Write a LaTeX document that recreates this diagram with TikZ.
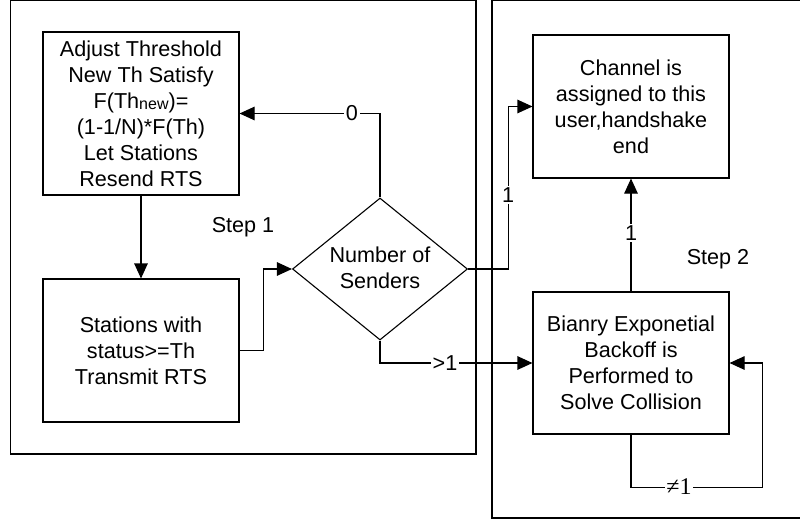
\documentclass[tikz,border=0pt]{standalone}
\usepackage{fontspec}
\setmainfont{Liberation Sans}
\newfontfamily\serifone{Liberation Serif}
\usetikzlibrary{arrows.meta,shapes.geometric}
\begin{document}
\begin{tikzpicture}[x=1pt,y=-1pt,
  every node/.style={font=\fontsize{21.6}{26}\selectfont},
  box/.style={draw, line width=1.1pt, align=center, minimum width=196pt, inner sep=0pt},
  conn/.style={line width=1.1pt},
  arr/.style={conn, -{Triangle[length=15pt,width=13.5pt]}},
  lab/.style={fill=white, inner sep=1.5pt},
  frame/.style={line width=1.1pt}]
\useasboundingbox (0,0) rectangle (800,522);
\clip (0,0) rectangle (800,522);
% frames
\draw[frame] (10.5,0.6) rectangle (476,454);
\draw[frame] (492,0.6) rectangle (806,518);
% nodes
\node[box, minimum height=163pt] (adj) at (141,113.5)
  {Adjust Threshold\\New Th Satisfy\\F(Th\raisebox{-1pt}{\fontsize{16}{16}\selectfont new})=\\(1-1/N)*F(Th)\\Let Stations\\Resend RTS};
\node[box, minimum height=143pt] (sta) at (141,350.5)
  {Stations with\\status>=Th\\Transmit RTS};
\node[draw, diamond, line width=1.1pt, minimum width=175pt, minimum height=142pt, inner sep=0pt] (dia) at (380,269) {};
\node[align=center, inner sep=0pt] (diatext) at (380,268) {Number of\\Senders};
\node[box, minimum height=143pt] (ch) at (631,106.5)
  {Channel is\\assigned to this\\user,handshake\\end};
\node[box, minimum height=142pt] (bi) at (631,363)
  {Bianry Exponetial\\Backoff is\\Performed to\\Solve Collision};
\node (s1) at (243,227) {Step 1};
\node (s2) at (718,259) {Step 2};
% connectors
\draw[arr] (adj.south) -- (sta.north);
\draw[arr] (sta.east) -- ++(24,0) |- (dia.west);
\draw[arr] (dia.north) |- (adj.east);
\node[lab] (l0) at (352,113.5) {0};
\draw[arr] (dia.east) -- ++(40,0) |- (ch.west);
\node[lab] (l1a) at (508,195) {1};
\draw[arr] (dia.south) |- (bi.west);
\node[lab] (lgt) at (445,363) {>1};
\draw[arr] (bi.north) -- (ch.south);
\node[lab] (l1b) at (631,233) {1};
\draw[arr] (bi.south) -- ++(0,53) -| ([xshift=33pt]bi.east) -- (bi.east);
\node[lab, font=\serifone\fontsize{24}{26}\selectfont] (lne) at (679,487) {≠1};
\end{tikzpicture}
\end{document}
